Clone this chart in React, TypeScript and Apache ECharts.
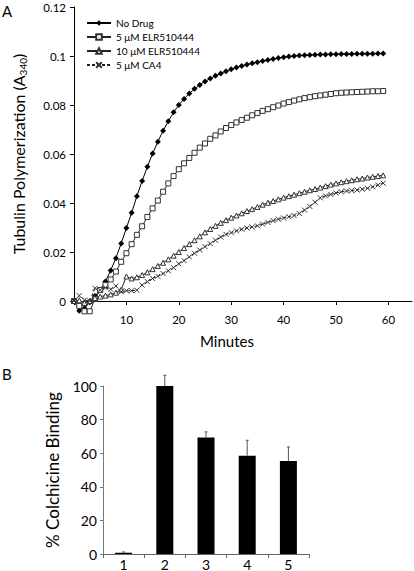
import React, { useEffect, useRef } from "react";
import * as echarts from "echarts";

const minutes = [0, 1, 2, 3, 4, 5, 6, 7, 8, 9, 10, 11, 12, 13, 14, 15, 16, 17, 18, 19, 20, 21, 22, 23, 24, 25, 26, 27, 28, 29, 30, 31, 32, 33, 34, 35, 36, 37, 38, 39, 40, 41, 42, 43, 44, 45, 46, 47, 48, 49, 50, 51, 52, 53, 54, 55, 56, 57, 58, 59];

const noDrug = [0, -0.004, -0.003, -0.0005, 0.002, 0.0045, 0.008, 0.0125, 0.0175, 0.0235,
  0.0298, 0.036, 0.0428, 0.049, 0.0548, 0.0602, 0.065, 0.0695, 0.0734, 0.077,
  0.08, 0.0825, 0.0847, 0.0866, 0.0882, 0.0896, 0.0908, 0.0919, 0.0929, 0.0938,
  0.0946, 0.0953, 0.0959, 0.0965, 0.097, 0.0975, 0.098, 0.0984, 0.0988, 0.0992,
  0.0995, 0.0998, 0.1, 0.1002, 0.1003, 0.1004, 0.1005, 0.1006, 0.1006, 0.1007,
  0.1007, 0.1008, 0.1008, 0.1008, 0.1009, 0.1009, 0.1009, 0.1009, 0.101, 0.101];

const elr5 = [0, -0.002, -0.0042, -0.0042, 0.0008, 0.0045, 0.0065, 0.0088, 0.012, 0.016,
  0.0195, 0.0232, 0.027, 0.0305, 0.0343, 0.0378, 0.041, 0.0446, 0.048, 0.051,
  0.0538, 0.0562, 0.0584, 0.0605, 0.0626, 0.0643, 0.0662, 0.0676, 0.0692, 0.0706,
  0.0718, 0.0729, 0.0739, 0.0748, 0.0758, 0.0767, 0.0776, 0.0783, 0.0791, 0.0798,
  0.0806, 0.0812, 0.0818, 0.0823, 0.0828, 0.0832, 0.0836, 0.0839, 0.0842, 0.0845,
  0.0848, 0.085, 0.0851, 0.0852, 0.0853, 0.0854, 0.0855, 0.0856, 0.0856, 0.0857];

const elr10 = [0, 0.0003, -0.0008, 0, 0.0012, 0.0018, 0.0022, 0.0027, 0.0034, 0.0046,
  0.01, 0.0092, 0.0097, 0.0106, 0.0117, 0.013, 0.0143, 0.0156, 0.017, 0.0185,
  0.02, 0.0216, 0.0232, 0.0248, 0.0264, 0.028, 0.0294, 0.0307, 0.0319, 0.033,
  0.034, 0.0349, 0.0358, 0.0367, 0.0375, 0.0384, 0.0393, 0.0401, 0.0408, 0.0415,
  0.0422, 0.0428, 0.0434, 0.044, 0.0446, 0.0452, 0.0457, 0.0463, 0.0469, 0.0475,
  0.048, 0.0485, 0.0489, 0.0493, 0.0497, 0.05, 0.0504, 0.0507, 0.051, 0.0513];

const ca4 = [0, 0.0022, 0.0004, 0, 0.0052, 0.0045, 0.0054, 0.0048, 0.0061, 0.0038,
  0.0042, 0.0042, 0.0044, 0.0065, 0.0079, 0.0092, 0.0101, 0.0112, 0.0123, 0.0136,
  0.0152, 0.0165, 0.018, 0.0195, 0.0208, 0.0222, 0.0234, 0.0248, 0.0261, 0.0272,
  0.0279, 0.0286, 0.0293, 0.0298, 0.0302, 0.0307, 0.0314, 0.0321, 0.0328, 0.0334,
  0.0339, 0.0344, 0.0349, 0.0357, 0.0371, 0.0386, 0.0403, 0.0421, 0.0429, 0.0435,
  0.0441, 0.0446, 0.0449, 0.0451, 0.0453, 0.0456, 0.046, 0.0466, 0.0473, 0.0481];

const seriesNames = ["No Drug", "5 \u03bcM ELR510444", "10 \u03bcM ELR510444", "5 \u03bcM CA4"];
const xTickValues = [0, 10, 20, 30, 40, 50, 60];
const xLabelValues = [10, 20, 30, 40, 50, 60];

const barCategories = ["1", "2", "3", "4", "5"];
const binding = [0.8, 100, 69.4, 58.5, 55.3];
const bindingErr = [0.4, 6.4, 3.3, 9.2, 8.4];

const FONT = "Lato";

export default function App() {
  const ref = useRef<HTMLDivElement>(null);
  useEffect(() => {
    document.body.style.margin = "0";
    if (!ref.current) return;
    const chart = echarts.init(ref.current, undefined, { renderer: "svg" });
    const pairs = (vals: number[]) => minutes.map((m, i) => [m, vals[i]]);
    const lineBase = {
      type: "line",
      xAxisIndex: 0,
      yAxisIndex: 0,
      clip: false,
      showAllSymbol: true,
    };
    const option: any = {
      animation: false,
      textStyle: { fontFamily: FONT },
      legend: {
        data: seriesNames,
        orient: "vertical",
        left: 81,
        top: 13,
        itemWidth: 24,
        itemHeight: 7,
        itemGap: 4,
        textStyle: { fontSize: 10, fontFamily: FONT, color: "#000" },
      },
      graphic: [
        { type: "text", x: 2, y: 3, style: { text: "A", fontSize: 15, fontFamily: FONT, fill: "#000" } },
        { type: "text", x: 2, y: 366, style: { text: "B", fontSize: 15, fontFamily: FONT, fill: "#000" } },
        {
          type: "text", x: 227, y: 341,
          style: { text: "Minutes", fontSize: 15, fontFamily: FONT, fill: "#000", align: "center", verticalAlign: "middle" },
        },
      ],
      grid: [
        { left: 66, top: 7, width: 346, height: 294 },
        { left: 103, top: 386, width: 206, height: 168 },
      ],
      xAxis: [
        {
          type: "value", gridIndex: 0, min: 0, max: 64.5,
          axisLine: { show: true, lineStyle: { color: "#000", width: 1 } },
          axisTick: { show: true, customValues: xTickValues, length: 4, lineStyle: { color: "#000" } },
          axisLabel: { customValues: xLabelValues, margin: 12, fontSize: 11.5, color: "#000", fontFamily: FONT },
          splitLine: { show: false },
        },
        {
          type: "category", gridIndex: 1, data: barCategories,
          axisLine: { show: true, lineStyle: { color: "#666", width: 1 } },
          axisTick: { show: true, length: 4, lineStyle: { color: "#666" } },
          axisLabel: { margin: 3, fontSize: 14, color: "#000", fontFamily: FONT },
        },
      ],
      yAxis: [
        {
          type: "value", gridIndex: 0, min: 0, max: 0.12, interval: 0.02,
          axisLine: { show: true, lineStyle: { color: "#000", width: 1 } },
          axisTick: { show: true, length: 4, lineStyle: { color: "#000" } },
          axisLabel: { margin: 8, fontSize: 11.5, color: "#000", fontFamily: FONT },
          splitLine: { show: false },
          name: "Tubulin Polymerization (A{sub|340})",
          nameLocation: "middle",
          nameGap: 46,
          nameTextStyle: {
            fontSize: 16, fontFamily: FONT, color: "#000", lineHeight: 20,
            rich: { sub: { fontSize: 10, fontFamily: FONT, color: "#000", verticalAlign: "bottom", lineHeight: 20 } },
          },
        },
        {
          type: "value", gridIndex: 1, min: 0, max: 100, interval: 20,
          axisLine: { show: true, lineStyle: { color: "#777", width: 1 } },
          axisTick: { show: true, length: 3, lineStyle: { color: "#777" } },
          axisLabel: { margin: 6, fontSize: 14, color: "#000", fontFamily: FONT },
          splitLine: { show: false },
          name: "% Colchicine Binding",
          nameLocation: "middle",
          nameGap: 42,
          nameTextStyle: { fontSize: 17, fontFamily: FONT, color: "#000" },
        },
      ],
      series: [
        {
          ...lineBase, name: seriesNames[0], data: pairs(noDrug),
          symbol: "diamond", symbolSize: 6,
          itemStyle: { color: "#000" },
          lineStyle: { color: "#000", width: 1 },
        },
        {
          ...lineBase, name: seriesNames[1], data: pairs(elr5),
          symbol: "rect", symbolSize: 5,
          itemStyle: { color: "#fff", borderColor: "#333", borderWidth: 1 },
          lineStyle: { color: "#222", width: 1 },
        },
        {
          ...lineBase, name: seriesNames[2], data: pairs(elr10),
          symbol: "triangle", symbolSize: 5,
          itemStyle: { color: "#fff", borderColor: "#333", borderWidth: 1 },
          lineStyle: { color: "#222", width: 1 },
        },
        {
          ...lineBase, name: seriesNames[3], data: pairs(ca4),
          symbol: "path://M0,0L10,10M10,0L0,10", symbolSize: 5,
          itemStyle: { color: "#fff", borderColor: "#333", borderWidth: 1 },
          lineStyle: { color: "#222", width: 1, type: [3, 2] },
        },
        {
          type: "bar", xAxisIndex: 1, yAxisIndex: 1, data: binding,
          barWidth: 17, itemStyle: { color: "#000" },
        },
        {
          type: "custom", xAxisIndex: 1, yAxisIndex: 1, clip: false, z: 5,
          data: binding.map((v, i) => [i, v, bindingErr[i]]),
          encode: { x: 0, y: 1 },
          renderItem: (params: any, api: any) => {
            const idx = api.value(0);
            const mean = api.value(1);
            const err = api.value(2);
            const base = api.coord([idx, mean]);
            const top = api.coord([idx, mean + err]);
            return {
              type: "group",
              children: [
                { type: "line", shape: { x1: base[0], y1: base[1], x2: top[0], y2: top[1] }, style: { stroke: "#555", lineWidth: 1 } },
                { type: "line", shape: { x1: top[0] - 1.5, y1: top[1], x2: top[0] + 1.5, y2: top[1] }, style: { stroke: "#555", lineWidth: 1 } },
              ],
            };
          },
        },
      ],
    };
    chart.setOption(option);
    return () => chart.dispose();
  }, []);
  return <div ref={ref} style={{ width: 414, height: 571 }} />;
}
